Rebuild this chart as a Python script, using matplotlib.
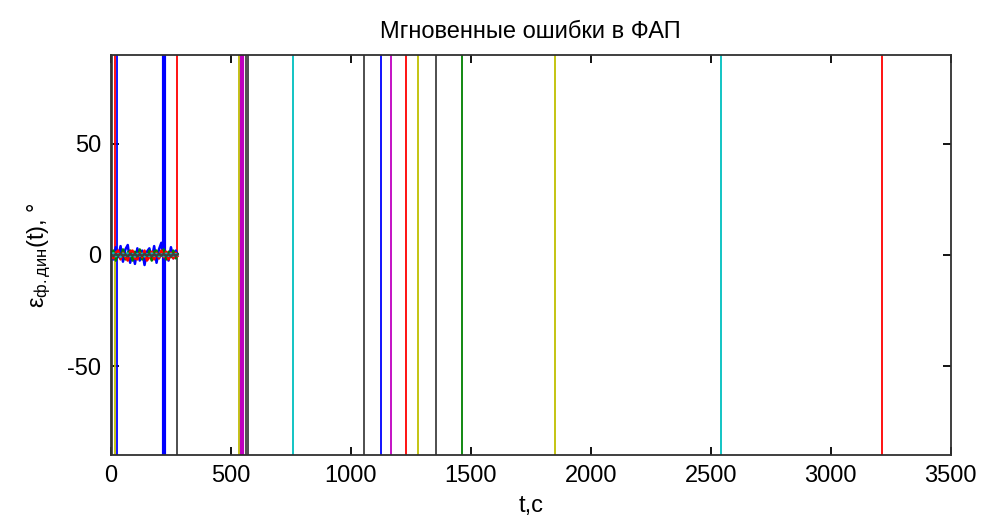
import numpy as np
import matplotlib
matplotlib.use("Agg")
import matplotlib.pyplot as plt

plt.rcParams['font.family'] = ['Liberation Sans', 'DejaVu Sans']
plt.rcParams['axes.unicode_minus'] = False
plt.rcParams['mathtext.fontset'] = 'custom'
plt.rcParams['mathtext.rm'] = 'Liberation Sans'
plt.rcParams['mathtext.it'] = 'Liberation Sans'

# noisy tracking error of several channels before the slips (degrees)
t_noise = [0, 10, 20, 30, 40, 50, 60, 70, 80, 90, 100, 110, 120, 130, 140,
           150, 160, 170, 180, 190, 200, 210, 220, 230, 240, 250, 260, 270, 277]
err_blue = [1.5, -2.0, 3.5, -1.0, 4.0, -3.0, 2.5, 4.5, -3.5, 1.0, -4.0, 3.0, -2.5,
            2.0, -4.5, 1.5, 3.0, -2.0, 4.0, -3.5, 2.5, 5.5, -3.0, 1.0, -2.5, 3.5, -1.5, 2.0, 0.5]
err_green = [-1.0, 2.0, -2.5, 1.5, -1.5, 2.5, -2.0, 1.0, 2.0, -2.5, 1.5, -1.0, 2.5,
             -2.0, 1.0, -1.5, 2.0, -2.5, 1.5, 2.0, -1.5, 1.0, 2.5, -2.0, 1.5, -1.0, 2.0, -1.5, 0.5]
err_red = [0.5, -1.5, 1.0, 2.0, -2.0, 1.0, -1.0, -2.5, 1.5, 2.0, -1.5, -2.0, 1.0,
           -1.0, 2.0, -2.5, -1.0, 1.5, -2.0, 1.0, -1.5, 2.0, -1.0, 1.5, -2.0, 1.0, -1.5, 1.0, -0.5]
err_cyan = [0.0, 0.8, -0.6, 0.5, -0.8, 0.6, -0.4, 0.7, -0.5, 0.4, -0.7, 0.5, -0.3,
            0.6, -0.6, 0.4, -0.5, 0.7, -0.4, 0.5, -0.6, 0.3, -0.5, 0.6, -0.4, 0.5, -0.3, 0.4, 0.0]
err_black = [0.3, -0.5, 0.4, -0.3, 0.6, -0.4, 0.3, -0.6, 0.5, -0.3, 0.4, -0.5, 0.3,
             -0.4, 0.5, -0.3, 0.4, -0.5, 0.3, -0.4, 0.5, -0.3, 0.4, -0.4, 0.3, -0.5, 0.4, -0.3, 0.2]

# cycle slips: time, colour, direction of the jump (1 up, -1 down, 0 both)
slip_t = [5, 17, 17, 26, 221, 277, 277, 534, 545, 562, 573, 759, 1053, 1126,
          1168, 1229, 1278, 1355, 1463, 1850, 2545, 3213]
slip_c = ['k', 'r', 'y', 'b', 'b', 'r', 'k', 'y', 'm', 'k', 'k', 'c', 'k', 'b',
          'm', 'r', 'y', 'k', 'g', 'y', 'c', 'r']
slip_dir = [0, 1, -1, 0, 0, 1, -1, 0, 0, 0, 0, 0, 0, 0, 0, 0, 0, 0, 0, 0, 0, 0]
slip_w = [1.3, 1.3, 1.3, 1.3, 3, 1.3, 1.3, 1.3, 3, 1.3, 1.3, 1.3, 1.3, 1.3,
          1.3, 1.3, 1.3, 1.3, 1.3, 1.3, 1.3, 1.3]

colors = {'b': '#0000ff', 'g': '#008000', 'r': '#ff0000', 'c': '#00bfbf',
          'm': '#bf00bf', 'y': '#bfbf00', 'k': '#404040'}

fig = plt.figure(figsize=(9.82, 5.22), dpi=100)
ax = fig.add_axes([0.113, 0.128, 0.855, 0.767])

big = 1e4
for t, c, d, w in zip(slip_t, slip_c, slip_dir, slip_w):
    lo = 0 if d == 1 else -big
    hi = 0 if d == -1 else big
    ax.plot([t, t], [lo, hi], color=colors[c], lw=w)

for y, c in [(err_blue, 'b'), (err_green, 'g'), (err_red, 'r'),
             (err_cyan, 'c'), (err_black, 'k')]:
    ax.plot(t_noise, y, color=colors[c], lw=1.8)

ax.set_xlim(0, 3500)
ax.set_ylim(-90, 90)
ax.set_xticks(np.arange(0, 3501, 500))
ax.set_yticks([-50, 0, 50])
ax.tick_params(direction='in', top=True, right=True, labelsize=17, length=6, width=1.3, pad=7)
for s in ax.spines.values():
    s.set_color('#303030')
    s.set_linewidth(1.3)

ax.set_title('Мгновенные ошибки в ФАП', fontsize=17, pad=12)
ax.set_xlabel('t,c', fontsize=17, labelpad=6)
ax.set_ylabel(r'$\varepsilon_{\mathregular{ф.дин}}\mathregular{(t)}$, °', fontsize=17, labelpad=10)

fig.savefig('out.png', dpi=100)
